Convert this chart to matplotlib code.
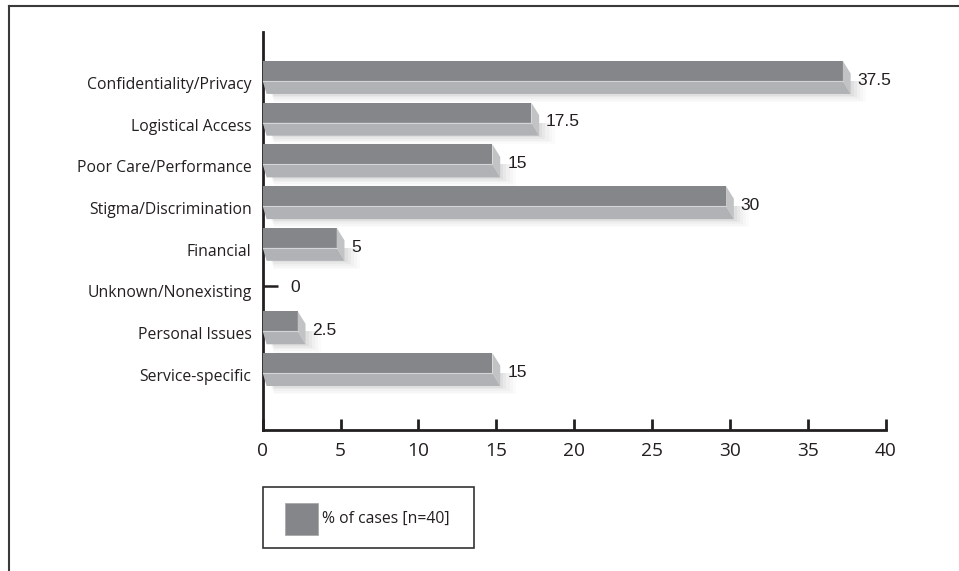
import matplotlib
matplotlib.use("Agg")
import matplotlib.pyplot as plt
from matplotlib.patches import Polygon, Rectangle
from matplotlib.lines import Line2D

categories = ["Confidentiality/Privacy", "Logistical Access", "Poor Care/Performance",
              "Stigma/Discrimination", "Financial", "Unknown/Nonexisting",
              "Personal Issues", "Service-specific"]
pct_cases = [37.5, 17.5, 15, 30, 5, 0, 2.5, 15]
xticks = [0, 5, 10, 15, 20, 25, 30, 35, 40]
legend_label = "% of cases [n=40]"

TOP = "#858689"
FRONT = "#b1b2b5"
SIDE = "#c2c3c5"
INK = "#231f20"

W, H = 959, 571
fig = plt.figure(figsize=(W / 100, H / 100), dpi=100)
ax = fig.add_axes([262.7 / W, (H - 430) / H, 623 / W, 398 / H])
ax.set_xlim(0, 40)
ax.set_ylim(8.45, -1.09)

# pseudo-3D box bars: dark top face, lighter front face, slanted end face
h_top = 0.48
h_front = 0.31
dx = 0.5
for i, v in enumerate(pct_cases):
    y0 = i - (h_top + h_front) / 2
    ym = y0 + h_top
    y1 = ym + h_front
    if v == 0:
        ax.plot([0, 1.0], [i, i], color=INK, lw=1.8, solid_capstyle="butt")
        ax.annotate("0", (1.0, i), xytext=(9, -1), textcoords="offset points",
                    va="center", ha="left", fontsize=12.5, family="Liberation Sans", color=INK)
        continue
    x1 = v - 0.25
    # soft shadow below the bar
    for k, a in enumerate([0.035, 0.03, 0.025, 0.02, 0.015]):
        off = 0.04 * (k + 1)
        ax.add_patch(Polygon([(0.2, ym), (x1 + dx + off * 5, ym),
                              (x1 + dx + off * 5, y1 + off), (0.2 + dx, y1 + off)],
                             closed=True, facecolor="black", edgecolor="none", alpha=a, zorder=1))
    ax.add_patch(Rectangle((0, y0), x1, h_top, facecolor=TOP, edgecolor="none", zorder=3))
    ax.add_patch(Polygon([(0, ym), (x1, ym), (x1 + dx, y1), (dx * 0.5, y1)],
                         closed=True, facecolor=FRONT, edgecolor="none", zorder=3))
    ax.add_patch(Polygon([(x1, y0), (x1 + dx, y0 + 0.3), (x1 + dx, y1), (x1, ym)],
                         closed=True, facecolor=SIDE, edgecolor="none", zorder=3))
    ax.plot([0, x1], [ym, ym], color="#d4d5d7", lw=0.8, zorder=4)
    ax.annotate(f"{v:g}", (x1 + dx, i), xytext=(5, -2), textcoords="offset points",
                va="center", ha="left", fontsize=12.5, family="Liberation Sans", color=INK)

ax.set_yticks([i + 0.13 for i in range(len(categories))])
ax.set_yticklabels(categories, fontsize=11.3, family="Open Sans", color=INK)
ax.tick_params(axis="y", length=0, pad=8)
ax.set_xticks(xticks)
ax.set_xticklabels([str(t) for t in xticks], fontsize=13.8, family="Open Sans", color=INK)
ax.tick_params(axis="x", direction="in", length=8, width=2, color=INK, pad=9)
for s in ["top", "right"]:
    ax.spines[s].set_visible(False)
for s in ["left", "bottom"]:
    ax.spines[s].set_linewidth(2)
    ax.spines[s].set_color(INK)
ax.set_facecolor("none")

# outer frame (top and left edges only)
fig.add_artist(Line2D([9 / W, 9 / W], [0, 1 - 6 / H], transform=fig.transFigure,
                      color="#3a3a3a", lw=1.5))
fig.add_artist(Line2D([9 / W, 1], [1 - 6 / H, 1 - 6 / H], transform=fig.transFigure,
                      color="#3a3a3a", lw=1.5))

# legend box
fig.add_artist(Rectangle((263 / W, 1 - 548 / H), 211 / W, 61 / H, transform=fig.transFigure,
                         facecolor="white", edgecolor="#333333", lw=1.2))
fig.add_artist(Rectangle((285 / W, 1 - 535 / H), 33 / W, 32 / H, transform=fig.transFigure,
                         facecolor=TOP, edgecolor="#aaaaaa", lw=0.6))
fig.text(322 / W, 1 - 519 / H, legend_label, fontsize=11.3, family="Open Sans",
         va="center", ha="left", color=INK)

fig.savefig("out.png", dpi=100)
